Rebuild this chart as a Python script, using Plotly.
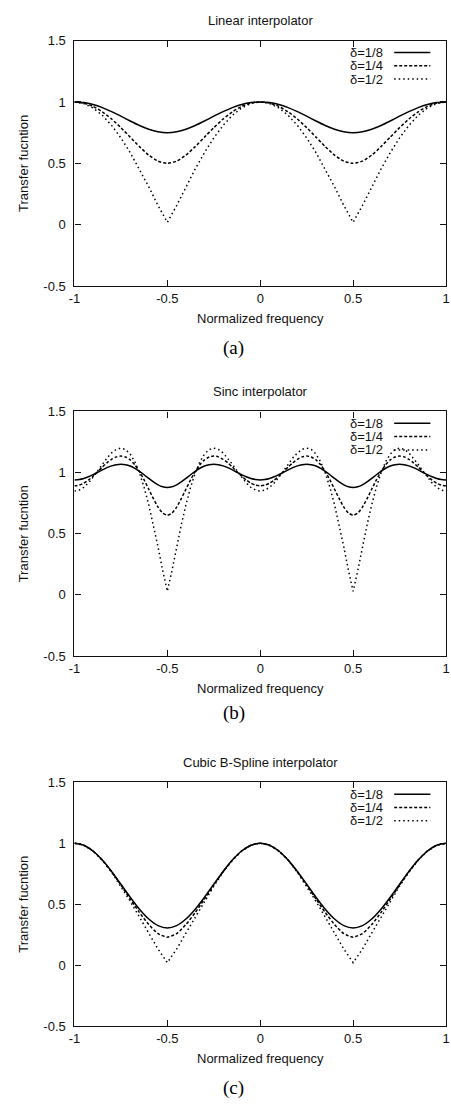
import plotly.graph_objects as go

W, H = 451, 1106

# ---------------- data ----------------
freq_coarse = [-1.0, -0.95, -0.9, -0.85, -0.8, -0.75, -0.7, -0.65, -0.6, -0.55,
               -0.5, -0.45, -0.4, -0.35, -0.3, -0.25, -0.2, -0.15, -0.1, -0.05,
               0.0, 0.05, 0.1, 0.15, 0.2, 0.25, 0.3, 0.35, 0.4, 0.45,
               0.5, 0.55, 0.6, 0.65, 0.7, 0.75, 0.8, 0.85, 0.9, 0.95, 1.0]

freq_fine = [-1.0, -0.975, -0.95, -0.925, -0.9, -0.875, -0.85, -0.825, -0.8, -0.775,
             -0.75, -0.725, -0.7, -0.675, -0.65, -0.625, -0.6, -0.575, -0.55, -0.525,
             -0.5, -0.475, -0.45, -0.425, -0.4, -0.375, -0.35, -0.325, -0.3, -0.275,
             -0.25, -0.225, -0.2, -0.175, -0.15, -0.125, -0.1, -0.075, -0.05, -0.025,
             0.0, 0.025, 0.05, 0.075, 0.1, 0.125, 0.15, 0.175, 0.2, 0.225,
             0.25, 0.275, 0.3, 0.325, 0.35, 0.375, 0.4, 0.425, 0.45, 0.475,
             0.5, 0.525, 0.55, 0.575, 0.6, 0.625, 0.65, 0.675, 0.7, 0.725,
             0.75, 0.775, 0.8, 0.825, 0.85, 0.875, 0.9, 0.925, 0.95, 0.975, 1.0]

linear_d8 = [1.0, 0.9946, 0.9789, 0.9539, 0.9213, 0.8839, 0.8448, 0.8079, 0.7774, 0.7571, 0.75,
             0.7571, 0.7774, 0.8079, 0.8448, 0.8839, 0.9213, 0.9539, 0.9789, 0.9946, 1.0,
             0.9946, 0.9789, 0.9539, 0.9213, 0.8839, 0.8448, 0.8079, 0.7774, 0.7571, 0.75,
             0.7571, 0.7774, 0.8079, 0.8448, 0.8839, 0.9213, 0.9539, 0.9789, 0.9946, 1.0]
linear_d4 = [1.0, 0.9908, 0.9635, 0.9195, 0.8607, 0.7906, 0.7135, 0.6361, 0.5671, 0.5180, 0.5,
             0.5180, 0.5671, 0.6361, 0.7135, 0.7906, 0.8607, 0.9195, 0.9635, 0.9908, 1.0,
             0.9908, 0.9635, 0.9195, 0.8607, 0.7906, 0.7135, 0.6361, 0.5671, 0.5180, 0.5,
             0.5180, 0.5671, 0.6361, 0.7135, 0.7906, 0.8607, 0.9195, 0.9635, 0.9908, 1.0]
linear_d2 = [1.0, 0.9877, 0.9511, 0.8910, 0.8090, 0.7071, 0.5878, 0.4540, 0.3090, 0.1564, 0.02,
             0.1564, 0.3090, 0.4540, 0.5878, 0.7071, 0.8090, 0.8910, 0.9511, 0.9877, 1.0,
             0.9877, 0.9511, 0.8910, 0.8090, 0.7071, 0.5878, 0.4540, 0.3090, 0.1564, 0.02,
             0.1564, 0.3090, 0.4540, 0.5878, 0.7071, 0.8090, 0.8910, 0.9511, 0.9877, 1.0]

sinc_d8 = [0.9405, 0.9435, 0.9521, 0.9657, 0.9830, 1.0024, 1.0222, 1.0404, 1.0552, 1.0650,
           1.0685, 1.0648, 1.0536, 1.0353, 1.0109, 0.9824, 0.9522, 0.9236, 0.8999, 0.8841, 0.8786,
           0.8841, 0.8999, 0.9236, 0.9522, 0.9824, 1.0109, 1.0353, 1.0536, 1.0648, 1.0685,
           1.0650, 1.0552, 1.0404, 1.0222, 1.0024, 0.9830, 0.9657, 0.9521, 0.9435, 0.9405,
           0.9435, 0.9521, 0.9657, 0.9830, 1.0024, 1.0222, 1.0404, 1.0552, 1.0650, 1.0685,
           1.0648, 1.0536, 1.0353, 1.0109, 0.9824, 0.9522, 0.9236, 0.8999, 0.8841, 0.8786,
           0.8841, 0.8999, 0.9236, 0.9522, 0.9824, 1.0109, 1.0353, 1.0536, 1.0648, 1.0685,
           1.0650, 1.0552, 1.0404, 1.0222, 1.0024, 0.9830, 0.9657, 0.9521, 0.9435, 0.9405]
sinc_d4 = [0.8917, 0.8973, 0.9133, 0.9386, 0.9710, 1.0075, 1.0451, 1.0801, 1.1090, 1.1284,
           1.1355, 1.1278, 1.1041, 1.0639, 1.0084, 0.9403, 0.8640, 0.7867, 0.7179, 0.6694, 0.6517,
           0.6694, 0.7179, 0.7867, 0.8640, 0.9403, 1.0084, 1.0639, 1.1041, 1.1278, 1.1355,
           1.1284, 1.1090, 1.0801, 1.0451, 1.0075, 0.9710, 0.9386, 0.9133, 0.8973, 0.8917,
           0.8973, 0.9133, 0.9386, 0.9710, 1.0075, 1.0451, 1.0801, 1.1090, 1.1284, 1.1355,
           1.1278, 1.1041, 1.0639, 1.0084, 0.9403, 0.8640, 0.7867, 0.7179, 0.6694, 0.6517,
           0.6694, 0.7179, 0.7867, 0.8640, 0.9403, 1.0084, 1.0639, 1.1041, 1.1278, 1.1355,
           1.1284, 1.1090, 1.0801, 1.0451, 1.0075, 0.9710, 0.9386, 0.9133, 0.8973, 0.8917]
sinc_d2 = [0.8488, 0.8566, 0.8794, 0.9153, 0.9615, 1.0139, 1.0681, 1.1189, 1.1612, 1.1899,
           1.2004, 1.1888, 1.1520, 1.0884, 0.9972, 0.8794, 0.7368, 0.5729, 0.3919, 0.1990, 0.03,
           0.1990, 0.3919, 0.5729, 0.7368, 0.8794, 0.9972, 1.0884, 1.1520, 1.1888, 1.2004,
           1.1899, 1.1612, 1.1189, 1.0681, 1.0139, 0.9615, 0.9153, 0.8794, 0.8566, 0.8488,
           0.8566, 0.8794, 0.9153, 0.9615, 1.0139, 1.0681, 1.1189, 1.1612, 1.1899, 1.2004,
           1.1888, 1.1520, 1.0884, 0.9972, 0.8794, 0.7368, 0.5729, 0.3919, 0.1990, 0.03,
           0.1990, 0.3919, 0.5729, 0.7368, 0.8794, 0.9972, 1.0884, 1.1520, 1.1888, 1.2004,
           1.1899, 1.1612, 1.1189, 1.0681, 1.0139, 0.9615, 0.9153, 0.8794, 0.8566, 0.8488]

bspline_d8 = [1.0, 0.9837, 0.9363, 0.8622, 0.7684, 0.6635, 0.5570, 0.4587, 0.3779, 0.3239, 0.3047,
              0.3239, 0.3779, 0.4587, 0.5570, 0.6635, 0.7684, 0.8622, 0.9363, 0.9837, 1.0,
              0.9837, 0.9363, 0.8622, 0.7684, 0.6635, 0.5570, 0.4587, 0.3779, 0.3239, 0.3047,
              0.3239, 0.3779, 0.4587, 0.5570, 0.6635, 0.7684, 0.8622, 0.9363, 0.9837, 1.0]
bspline_d4 = [1.0, 0.9837, 0.9361, 0.8614, 0.7657, 0.6567, 0.5425, 0.4315, 0.3325, 0.2584, 0.2292,
              0.2584, 0.3325, 0.4315, 0.5425, 0.6567, 0.7657, 0.8614, 0.9361, 0.9837, 1.0,
              0.9837, 0.9361, 0.8614, 0.7657, 0.6567, 0.5425, 0.4315, 0.3325, 0.2584, 0.2292,
              0.2584, 0.3325, 0.4315, 0.5425, 0.6567, 0.7657, 0.8614, 0.9361, 0.9837, 1.0]
bspline_d2 = [1.0, 0.9837, 0.9359, 0.8604, 0.7624, 0.6482, 0.5237, 0.3939, 0.2624, 0.1310, 0.02,
              0.1310, 0.2624, 0.3939, 0.5237, 0.6482, 0.7624, 0.8604, 0.9359, 0.9837, 1.0,
              0.9837, 0.9359, 0.8604, 0.7624, 0.6482, 0.5237, 0.3939, 0.2624, 0.1310, 0.02,
              0.1310, 0.2624, 0.3939, 0.5237, 0.6482, 0.7624, 0.8604, 0.9359, 0.9837, 1.0]

series_labels = ["δ=1/8", "δ=1/4", "δ=1/2"]
panel_titles = ["Linear interpolator", "Sinc interpolator", "Cubic B-Spline interpolator"]
captions = ["(a)", "(b)", "(c)"]
x_title = "Normalized frequency"
y_title = "Transfer fucntion"
x_tickvals = [-1, -0.5, 0, 0.5, 1]
x_ticktext = ["-1", "-0.5", "0", "0.5", "1"]
y_tickvals = [-0.5, 0, 0.5, 1, 1.5]
y_ticktext = ["-0.5", "0", "0.5", "1", "1.5"]

panels = [
    (freq_coarse, [linear_d8, linear_d4, linear_d2]),
    (freq_fine, [sinc_d8, sinc_d4, sinc_d2]),
    (freq_coarse, [bspline_d8, bspline_d4, bspline_d2]),
]

# ---------------- layout geometry (pixels) ----------------
LEFT, RIGHT = 70, 450
TOPS = [34, 410, 786]
BOTTOMS = [283, 658, 1033]
CAPTION_Y = [346, 716, 1096]


def fx(px):
    return px / W


def fy(px):
    return 1 - px / H


DASHES = ["solid", "3px,2px", "1.5px,3px"]
SHAPES = ["spline", "spline", "linear"]
INK = "#111111"
SANS = "Liberation Sans, Arial, sans-serif"
SERIF = "Liberation Serif, Times New Roman, serif"

fig = go.Figure()
layout = dict(
    width=W, height=H,
    margin=dict(l=0, r=0, t=0, b=0),
    paper_bgcolor="white", plot_bgcolor="white",
    showlegend=False,
    font=dict(family=SANS, size=13, color=INK),
)
annotations = []
shapes = []

for i, (xs, ys_list) in enumerate(panels):
    n = "" if i == 0 else str(i + 1)
    for j, ys in enumerate(ys_list):
        fig.add_trace(go.Scatter(
            x=xs, y=ys, mode="lines", name=series_labels[j],
            xaxis="x" + n, yaxis="y" + n,
            line=dict(color="black", width=1.5, dash=DASHES[j],
                      shape=SHAPES[j], smoothing=0.6),
            hoverinfo="skip",
        ))
    common = dict(showline=True, linecolor=INK, linewidth=1.2, mirror="ticks",
                  ticks="inside", ticklen=6, tickwidth=1, tickcolor=INK,
                  showgrid=False, zeroline=False, ticklabeloverflow="allow",
                  tickfont=dict(family=SANS, size=13, color=INK))
    layout["xaxis" + n] = dict(common, domain=[fx(LEFT), fx(RIGHT)], range=[-1, 1],
                               anchor="y" + n, tickvals=x_tickvals, ticktext=x_ticktext)
    layout["yaxis" + n] = dict(common, domain=[fy(BOTTOMS[i]), fy(TOPS[i])], range=[-0.5, 1.5],
                               anchor="x" + n, tickvals=y_tickvals, ticktext=y_ticktext,
                               ticklabelstandoff=5)
    top, bot = TOPS[i], BOTTOMS[i]
    cx = (LEFT + RIGHT) / 2
    annotations.append(dict(text=panel_titles[i], x=fx(cx), y=fy(top - 20), xref="paper", yref="paper",
                            showarrow=False, xanchor="center", yanchor="middle",
                            font=dict(family=SANS, size=13, color=INK)))
    annotations.append(dict(text=x_title, x=fx(cx), y=fy(bot + 33), xref="paper", yref="paper",
                            showarrow=False, xanchor="center", yanchor="middle",
                            font=dict(family=SANS, size=13, color=INK)))
    annotations.append(dict(text=y_title, x=fx(18), y=fy((top + bot) / 2), xref="paper", yref="paper",
                            showarrow=False, xanchor="center", yanchor="middle", textangle=-90,
                            font=dict(family=SANS, size=13, color=INK)))
    annotations.append(dict(text=captions[i], x=fx(233), y=fy(CAPTION_Y[i]), xref="paper", yref="paper",
                            showarrow=False, xanchor="center", yanchor="middle",
                            font=dict(family=SERIF, size=19, color="black")))
    # legend (gnuplot style: label then sample)
    for j in range(3):
        ry = top + 12 + 13.5 * j
        annotations.append(dict(text=series_labels[j], x=fx(388), y=fy(ry), xref="paper", yref="paper",
                                showarrow=False, xanchor="right", yanchor="middle",
                                font=dict(family=SANS, size=13, color=INK)))
        shapes.append(dict(type="line", xref="paper", yref="paper",
                           x0=fx(397), x1=fx(434), y0=fy(ry), y1=fy(ry),
                           line=dict(color="black", width=1.5, dash=DASHES[j])))

layout["annotations"] = annotations
layout["shapes"] = shapes
fig.update_layout(**layout)

page_fix = ("document.documentElement.style.margin='0';document.documentElement.style.padding='0';"
            "document.body.style.margin='0';document.body.style.padding='0';"
            "document.body.style.overflow='hidden';")
fig.write_html("out.html", post_script=page_fix, config={"displayModeBar": False})
